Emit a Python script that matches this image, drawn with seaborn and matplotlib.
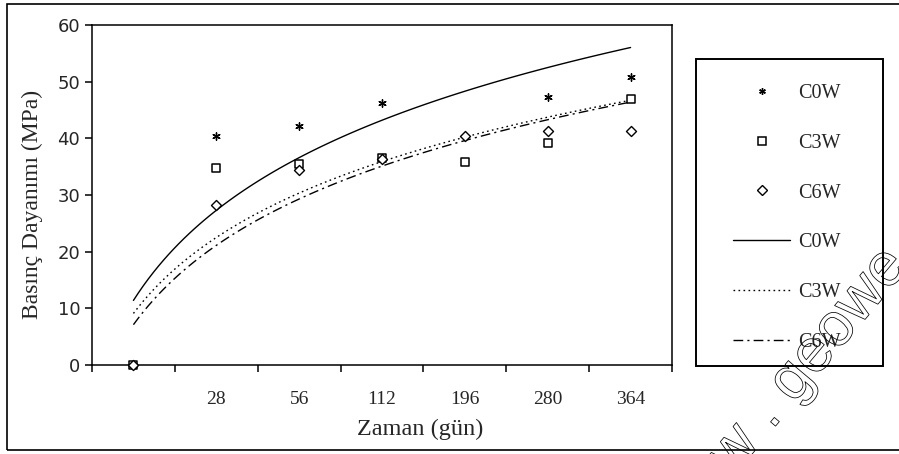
import numpy as np
import matplotlib
matplotlib.use("Agg")
import matplotlib.pyplot as plt
import matplotlib.patheffects as pe
from matplotlib.lines import Line2D
from matplotlib.patches import Rectangle
import seaborn as sns

# Compressive strength (MPa) by curing age
tick_labels = ["", "28", "56", "112", "196", "280", "364"]
c0w = [0.0, 40.5, 42.2, 46.2, np.nan, 47.3, 50.8]
c3w = [0.0, 34.7, 35.4, 36.5, 35.8, 39.1, 47.0]
c6w = [0.0, 28.2, 34.4, 36.3, 40.4, 41.3, 41.3]
series_names = ["C0W", "C3W", "C6W"]

sns.set_style("ticks")
plt.rcParams["font.family"] = ["Liberation Serif", "DejaVu Serif"]

fig = plt.figure(figsize=(8.99, 4.54), dpi=100)
ax = fig.add_axes([92 / 899, 1 - 365 / 454, 580 / 899, 340 / 454])

pos = np.arange(1, len(tick_labels) + 1)

marker_styles = {
    "C0W": dict(marker=(6, 2, 0), s=28, color="black", linewidth=1.0),
    "C3W": dict(marker="s", s=38, color="white", edgecolor="black", linewidth=1.1),
    "C6W": dict(marker="D", s=26, color="white", edgecolor="black", linewidth=1.0),
}
line_styles = {
    "C0W": "-",
    "C3W": (0, (1.2, 2.4)),
    "C6W": (0, (7, 3, 1.5, 3)),
}
values = {"C0W": c0w, "C3W": c3w, "C6W": c6w}

# logarithmic trend lines, y ~ log(x)
for name in series_names:
    sns.regplot(x=pos, y=np.array(values[name]), logx=True, ci=None, scatter=False,
                color="black", line_kws=dict(lw=1.0, ls=line_styles[name]), ax=ax)

# measured points
for name in series_names:
    sns.scatterplot(x=pos, y=values[name], ax=ax, legend=False, zorder=5,
                    **marker_styles[name])
for coll in ax.collections:
    coll.set_clip_on(False)

ax.set_xlim(0.5, len(tick_labels) + 0.5)
ax.set_ylim(0, 60)
ax.set_yticks(np.arange(0, 61, 10))
ax.set_xticks(np.arange(0.5, len(tick_labels) + 1, 1.0))
ax.set_xticklabels([])
ax.set_xticks(pos, minor=True)
ax.set_xticklabels(tick_labels, minor=True, fontsize=14)
ax.tick_params(axis="x", which="major", direction="out", length=5, width=1.1, color="black")
ax.tick_params(axis="x", which="minor", length=0, pad=18.5)
ax.tick_params(axis="y", direction="out", length=5, width=1.1, color="black", pad=3.5,
               labelsize=13)
for lab in ax.get_yticklabels():
    lab.set_family("DejaVu Sans")

for sp in ax.spines.values():
    sp.set_visible(True)
    sp.set_color("black")
    sp.set_linewidth(1.1)

ax.set_xlabel("Zaman (gün)", fontsize=17.5)
ax.xaxis.set_label_coords((420 - 92) / 580, -(419 - 365) / 340)
ax.set_ylabel("Basınç Dayanımı (MPa)", fontsize=17)
ax.yaxis.set_label_coords(-(92 - 43) / 580, (365 - 204) / 340)

# legend: markers for measurements, lines for trends
handles = []
for name in series_names:
    st = marker_styles[name]
    handles.append(Line2D([], [], ls="none", marker=st["marker"],
                          markersize=np.sqrt(st["s"]) * 0.9,
                          markerfacecolor=st["color"] if name != "C0W" else "black",
                          markeredgecolor="black", markeredgewidth=st["linewidth"],
                          label=name))
for name in series_names:
    handles.append(Line2D([], [], color="black", lw=1.0, ls=line_styles[name], label=name))
fig.legend(handles=handles, loc="upper left", bbox_to_anchor=(733 / 899, 1 - 84 / 454),
           frameon=False, fontsize=14.5, borderpad=0, borderaxespad=0,
           handlelength=2.85, handletextpad=0.4, labelspacing=1.52)
fig.patches.append(Rectangle((696 / 899, 1 - 366 / 454), (883 - 696) / 899, (366 - 59) / 454,
                             transform=fig.transFigure, fill=False, ec="black", lw=1.4))

# outer chart frame
fig.patches.append(Rectangle((7 / 899, 1 - 450 / 454), 1.0, (450 - 4) / 454,
                             transform=fig.transFigure, fill=False, ec="black", lw=1.2,
                             clip_on=False))

# outlined site mark
fig.text(0.882, 0.107, "www . geowe", fontsize=44, family="Liberation Sans",
         rotation=50, rotation_mode="anchor", ha="center", va="baseline",
         color="none", zorder=10,
         path_effects=[pe.Stroke(linewidth=0.55, foreground="black")])

fig.savefig("out.png", dpi=100)
